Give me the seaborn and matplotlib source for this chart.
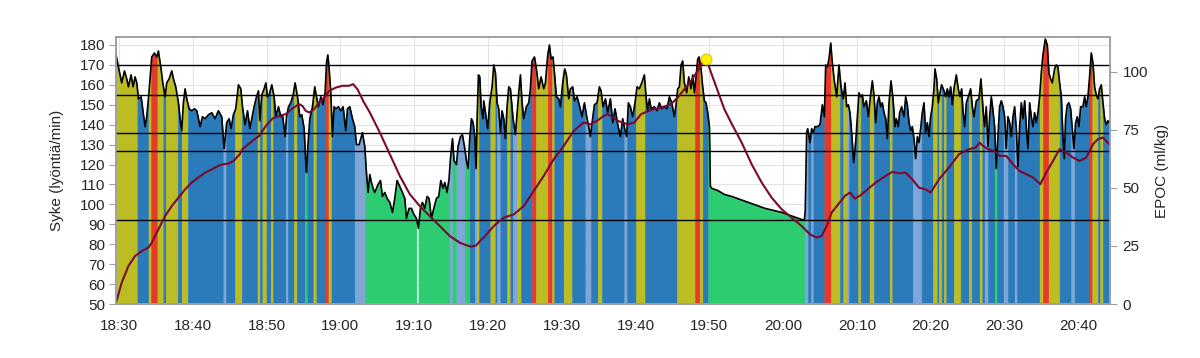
import numpy as np
import pandas as pd
import seaborn as sns
import matplotlib.pyplot as plt

# time in minutes after 18:30, heart rate (bpm)
hr_time = [
    -0.4, -0.08, 0.37, 0.74, 1.05, 1.28, 1.64, 1.91, 2.18, 2.41, 2.63, 3.0, 3.31, 3.54, 3.76, 3.99,
    4.21, 4.44, 4.8, 5.12, 5.34, 5.7, 5.93, 6.25, 6.47, 6.79, 7.15, 7.38, 7.69, 8.05, 8.28, 8.5,
    8.73, 8.96, 9.18, 9.5, 9.86, 10.22, 10.54, 10.99, 11.31, 11.67, 12.12, 12.57, 13.02, 13.47,
    13.92, 14.24, 14.6, 14.92, 15.19, 15.5, 15.82,
    16.19, 16.51, 16.73, 17.09, 17.41, 17.73, 18.0, 18.31, 18.63, 18.9, 19.08, 19.35, 19.67, 19.9,
    20.12, 20.35, 20.71, 21.02, 21.25, 21.61, 21.93, 22.15, 22.51, 22.7, 22.97, 23.28, 23.6, 23.87,
    24.19, 24.5, 24.77, 25.09, 25.31, 25.41, 25.59, 25.86, 26.22, 26.53, 26.76, 27.03, 27.35, 27.66,
    27.93, 28.12, 28.3, 28.48, 28.7, 28.93, 29.15, 29.38, 29.74, 30.06, 30.37, 30.73, 30.96, 31.28,
    31.64, 31.95, 32.18, 32.54,
    32.99, 33.31, 33.53, 33.76, 33.99, 34.21, 34.44, 34.66, 35.11, 35.43, 35.7, 36.02, 36.33, 36.7,
    37.06, 37.37, 37.69, 38.05, 38.41, 38.73, 38.95, 39.31, 39.63, 39.95, 40.31, 40.58, 40.85, 41.12,
    41.44, 41.75, 42.02, 42.34, 42.66, 43.02, 43.33, 43.61, 43.92, 44.15, 44.46, 44.73, 44.92, 45.19,
    45.41, 45.73, 45.95, 46.27, 46.54, 46.86, 47.08, 47.31, 47.53, 47.76, 47.99, 48.21, 48.39, 48.53,
    48.71, 48.89, 49.07, 49.34,
    49.43, 49.66, 49.97, 50.24, 50.56, 50.79, 51.01, 51.24, 51.46, 51.69, 51.91, 52.14, 52.37, 52.59,
    52.82, 53.04, 53.4, 53.72, 53.95, 54.17, 54.4, 54.62, 54.85, 55.21, 55.53, 55.75, 55.98, 56.3,
    56.57, 56.88, 57.2, 57.56, 57.79, 58.1, 58.33, 58.55, 58.82, 59.05, 59.28, 59.59, 59.82, 60.13,
    60.41, 60.63, 60.95, 61.17, 61.49, 61.72, 62.08, 62.44, 62.75, 63.07, 63.43, 63.66, 63.88, 64.11,
    64.43, 64.79, 65.1, 65.33, 65.6, 65.92,
    66.23, 66.59, 66.91, 67.22, 67.59, 67.95, 68.26, 68.58, 68.8, 69.03, 69.3, 69.62, 69.93, 70.2,
    70.52, 70.84, 71.2, 71.42, 71.65, 71.88, 72.1, 72.55, 72.91, 73.23, 73.55, 73.91, 74.27, 74.59,
    74.9, 75.26, 75.49, 75.71, 75.94, 76.17, 76.39, 76.62, 76.93, 77.21, 77.52, 77.75, 77.97, 78.2,
    78.43, 78.61, 78.88, 79.1, 79.33, 79.55, 79.78, 80.01, 80.14, 80.37, 81.14, 82.04, 83.03,
    85.29, 87.55, 89.8, 92.06, 92.88, 93.0, 93.19, 93.33, 93.64, 93.87, 94.1, 94.32, 94.68, 95.0,
    95.32, 95.59, 95.77, 95.99, 96.22, 96.45, 96.67, 96.94, 97.26, 97.57, 97.84, 98.16, 98.39, 98.61,
    98.84, 99.06, 99.29, 99.56, 99.83, 100.1,
    100.28, 100.51, 100.73, 100.96, 101.28, 101.55, 101.86, 102.09, 102.31, 102.54, 102.77, 102.99,
    103.22, 103.44, 103.67, 103.9, 104.12, 104.35, 104.62, 104.89, 105.16, 105.34, 105.61, 105.79,
    106.06, 106.38, 106.61, 106.83, 107.06, 107.28, 107.51, 107.73, 107.96, 108.19, 108.41, 108.64,
    108.86, 109.09, 109.31, 109.54, 109.77, 109.99, 110.22, 110.44, 110.58, 110.81, 111.03, 111.21,
    111.48, 111.8, 112.03, 112.25, 112.48, 112.7, 112.93, 113.15, 113.47, 113.74, 113.97, 114.19,
    114.37, 114.6, 114.83, 115.1, 115.41, 115.64, 115.86, 116.18, 116.54, 116.81,
    117.08, 117.31, 117.53, 117.76, 117.99, 118.21, 118.44, 118.66, 118.89, 119.11, 119.34, 119.57,
    119.79, 120.02, 120.24, 120.47, 120.7, 120.92, 121.15, 121.37, 121.6, 121.82, 122.05, 122.28,
    122.5, 122.73, 122.95, 123.18, 123.41, 123.63, 123.86, 124.08, 124.31, 124.53, 124.76, 124.99,
    125.21, 125.53, 125.8, 126.02, 126.25, 126.48, 126.79, 127.02, 127.24, 127.47, 127.7, 127.92,
    128.1, 128.28, 128.51, 128.73, 128.96, 129.19, 129.41, 129.64, 129.86, 130.09, 130.32, 130.63,
    130.86, 131.08, 131.31, 131.53, 131.76, 131.99, 132.21, 132.44, 132.66, 132.89, 133.12, 133.34,
    133.57, 133.79, 134.02, 134.2,
]
hr_bpm = [
    175, 169, 161, 167, 163, 159, 165, 159, 164, 161, 153, 154, 145, 139, 144, 153,
    163, 174, 176, 174, 177, 168, 161, 154, 161, 163, 167, 163, 159, 151, 143, 137,
    151, 158, 153, 148, 147, 148, 147, 139, 144, 143, 145, 146, 143, 147,
    144, 128, 141, 143, 138, 145, 148,
    160, 158, 149, 140, 147, 138, 143, 149, 154, 157, 142, 155, 158, 161,
    154, 155, 160, 154, 144, 149, 144, 145, 134, 144, 149, 151, 155, 161,
    154, 144, 145, 138, 121, 116, 129, 143, 149, 159, 154, 149, 154, 150,
    156, 171, 175, 168, 156, 134, 149, 148, 149, 147, 149, 137, 148, 149,
    143, 139, 130, 130,
    136, 129, 116, 106, 115, 111, 108, 106, 110, 112, 104, 106, 103, 101,
    96, 103, 112, 109, 106, 103, 93, 98, 98, 95, 93, 88, 98, 101,
    98, 104, 103, 93, 98, 103, 104, 112, 108, 111, 106, 113, 123, 133,
    122, 120, 129, 134, 135, 128, 122, 118, 133, 143, 141, 134, 118, 143,
    165, 164, 149, 143,
    152, 146, 138, 151, 159, 170, 166, 151, 148, 136, 147, 143, 133, 149,
    159, 158, 143, 135, 146, 156, 165, 151, 143, 149, 151, 158, 172, 174,
    168, 158, 164, 158, 161, 175, 180, 173, 174, 164, 154, 153, 149, 161,
    168, 165, 153, 158, 159, 152, 154, 149, 144, 151, 143, 139, 134, 141,
    150, 151, 159, 157, 149, 153,
    146, 153, 141, 148, 140, 134, 143, 137, 134, 151, 149, 144, 151, 159,
    158, 161, 165, 154, 147, 153, 148, 149, 147, 151, 148, 149, 148, 154,
    151, 144, 150, 158, 159, 170, 172, 161, 156, 164, 158, 165, 156, 164,
    173, 174, 168, 159, 152, 151, 146, 139, 109, 108, 107, 105, 104,
    101, 98, 96, 93, 92, 97, 136, 138, 131, 138, 136, 139, 139, 140,
    150, 144, 170, 169, 173, 181, 171, 162, 154, 170, 159, 153, 161, 149,
    150, 146, 136, 121, 131, 146,
    156, 154, 155, 149, 152, 144, 155, 162, 155, 141, 151, 154,
    149, 151, 146, 143, 133, 151, 162, 153, 139, 143, 139, 146,
    149, 144, 154, 150, 141, 137, 139, 133, 123, 134, 131, 138,
    146, 151, 136, 141, 134, 144, 149, 158, 168, 163, 151, 155,
    160, 157, 154, 158, 154, 159, 150, 158, 165, 158, 154, 158,
    147, 139, 151, 154, 158, 149, 144, 152, 153, 163,
    148, 139, 149, 129, 144, 154, 147, 139, 118, 134, 149, 152,
    149, 144, 128, 144, 141, 134, 144, 149, 138, 119, 139, 151,
    143, 152, 139, 128, 151, 144, 139, 146, 141, 146, 154, 166,
    175, 183, 180, 166, 163, 161, 168, 170, 169, 161, 154, 134,
    123, 143, 150, 151, 148, 138, 128, 141, 144, 139, 149, 149,
    154, 149, 154, 164, 176, 171, 159, 155, 153, 158, 160, 151,
    143, 140, 142, 141,
]

# EPOC (ml/kg)
epoc_time = [
    -0.4, 0.37, 1.28, 2.18, 3.09, 3.99, 4.44, 5.34, 6.25, 7.15, 8.05, 8.96, 9.86, 10.76, 11.67,
    12.57, 13.47, 14.15, 14.83, 15.51, 16.36, 16.73, 18.09, 18.99, 19.9, 20.8, 21.7, 22.6, 23.51,
    24.41, 24.86, 25.31, 25.77, 26.44, 27.12, 27.8, 28.48, 29.38, 30.28, 31.19, 31.73, 32.32, 32.63,
    33.17, 33.99, 35.34, 36.7, 38.05, 39.41, 40.76, 42.12, 43.47, 44.82, 46.18, 47.08, 47.76, 48.44,
    49.12, 49.43, 50.79, 52.14, 53.5, 54.85, 56.21, 57.56, 58.92, 60.27, 61.63, 62.98, 63.88, 64.79,
    65.69, 66.23, 67.59, 68.94, 69.84, 70.75, 72.1, 73.46, 74.81, 75.71, 76.62, 77.52, 78.43, 79.1,
    79.6, 80.23, 81.14, 82.04, 82.94, 84.39, 85.74, 87.1, 88.45, 89.8, 91.16, 92.51, 93.64, 94.55,
    95.23, 95.9, 96.58, 97.48, 98.39, 99.06, 99.74, 100.37, 101.19, 102.54, 103.9, 104.8, 105.7,
    106.61, 107.51, 108.41, 109.31, 109.99, 111.12, 112.48, 113.83, 115.19, 116.09, 116.63, 117.08,
    117.76, 118.66, 119.34, 120.24, 121.15, 122.05, 122.95, 123.86, 124.85, 125.66, 126.57, 127.47,
    128.37, 129.28, 130.18, 131.08, 131.99, 132.66, 133.34, 134.2,
]
epoc_val = [
    0.6, 9.2, 16.4, 20.7, 22.8, 24.3, 26.4, 32.2, 37.9, 42.2, 45.8, 49.4, 52.3, 54.5, 56.6,
    58.0, 59.5, 60.2, 60.5, 61.6, 64.5, 66.7, 70.3, 72.4, 76.7, 79.9, 81.0, 81.8, 84.2,
    86.1, 85.3, 83.2, 82.5, 83.9, 86.8, 88.9, 91.8, 93.2, 94.0, 94.0, 94.7, 92.5, 90.5,
    87.0, 82.5, 73.9, 64.5, 55.2, 47.3, 42.2, 37.9, 33.6, 29.3, 26.4, 25.3, 24.7, 25.3,
    27.9, 28.6, 33.6, 37.2, 38.6, 42.2, 48.7, 55.2, 62.4, 68.1, 74.6, 78.2, 77.4, 78.9,
    81.0, 81.8, 78.9, 77.4, 78.2, 81.8, 83.6, 84.6, 86.1, 88.9, 92.5, 96.1, 100.4, 104.0,
    105.5, 99.7, 91.8, 83.9, 78.2, 69.5, 60.2, 52.3, 45.8, 40.8, 37.2, 33.6, 30.0, 28.6,
    29.3, 33.6, 39.4, 43.0, 46.6, 48.0, 45.4, 46.6, 48.7, 52.3, 55.2, 56.9, 56.3,
    56.6, 53.7, 50.1, 49.4, 48.0, 53.7, 58.8, 64.5, 66.7, 67.4, 69.5, 68.1,
    66.7, 65.9, 63.8, 63.8, 60.2, 57.3, 55.9, 54.5, 51.6, 56.6, 61.6, 66.7,
    65.2, 63.1, 61.6, 63.1, 68.8, 71.0, 71.7, 68.8,
]

# intensity zone blocks: start minute and zone
# Y = olive, B = blue, L = light blue, R = red, G = green, W = gap
zone_start = [
    -0.4, 2.5, 4.0, 4.35, 5.21, 6.02, 6.34, 7.96, 8.5, 9.32, 14.15, 14.5, 15.73,
    16.64, 18.77, 19.08, 19.44, 19.99, 20.57, 20.89, 22.6, 22.88, 23.73, 24.1, 25.18, 25.54,
    26.35, 26.76, 28.0, 28.39, 28.8, 31.95,
    33.31, 40.31, 40.58, 44.82, 45.19, 45.73, 46.86, 47.53, 48.21, 48.53, 48.8,
    50.33, 51.01, 51.24, 51.69, 52.59, 53.04, 53.4, 53.95, 54.49, 55.98, 56.52, 58.1, 58.69,
    59.0, 60.27, 61.4, 63.21, 63.97, 64.88, 65.46,
    68.49, 68.85, 70.07, 71.29, 75.62, 78.06, 78.7, 79.1, 79.85,
    92.97, 93.4, 93.8, 94.1, 95.59, 96.49, 97.71, 98.16, 98.61, 98.93,
    100.19, 100.51, 101.73, 102.31, 104.44, 104.8, 107.6, 108.77, 110.31, 110.9, 111.12, 111.48,
    111.8, 112.12, 113.15, 114.06, 115.19, 115.55, 116.63, 117.0,
    117.31, 117.76, 118.66, 118.98, 119.88, 120.47, 121.37, 121.69, 124.76, 125.21, 125.98, 127.47,
    129.05, 129.5, 131.53, 131.9, 132.66, 132.98, 133.34,
]
zone_code = [
    'Y', 'B', 'Y', 'R', 'Y', 'B', 'Y', 'B', 'Y', 'B', 'L', 'B', 'Y',
    'B', 'Y', 'B', 'Y', 'B', 'Y', 'B', 'L', 'B', 'Y', 'B', 'G', 'B',
    'Y', 'B', 'R', 'Y', 'B', 'L',
    'G', 'W', 'G', 'L', 'G', 'L', 'G', 'B', 'L', 'Y', 'B',
    'Y', 'B', 'L', 'B', 'Y', 'B', 'L', 'Y', 'B', 'R', 'Y', 'R', 'Y',
    'B', 'Y', 'B', 'L', 'B', 'Y', 'B',
    'L', 'B', 'Y', 'B', 'Y', 'R', 'Y', 'B', 'G',
    'L', 'B', 'L', 'B', 'R', 'Y', 'B', 'Y', 'L', 'B',
    'Y', 'B', 'Y', 'B', 'Y', 'B', 'L', 'B', 'Y', 'B', 'Y', 'B',
    'Y', 'B', 'Y', 'B', 'Y', 'B', 'Y', 'B',
    'L', 'B', 'G', 'B', 'L', 'B', 'L', 'B', 'Y', 'R', 'Y', 'B',
    'L', 'B', 'R', 'Y', 'B', 'Y', 'B',
]
zone_colors = {'Y': '#bcbd22', 'B': '#2b7bba', 'L': '#7ea7d8', 'R': '#e8392b', 'G': '#2ecc71'}

limit_lines = [170, 155, 136, 127, 92]

tick_min = [0, 10, 20, 30, 40, 50, 60, 70, 80, 90, 100, 110, 120, 130]
tick_labels = ['18:30', '18:40', '18:50', '19:00', '19:10', '19:20', '19:30', '19:40',
               '19:50', '20:00', '20:10', '20:20', '20:30', '20:40']

sns.set_style("whitegrid", {"grid.color": "#e4e4e4", "axes.edgecolor": "#a0a0a0"})
plt.rcParams['font.family'] = ['Liberation Sans', 'DejaVu Sans']

t = np.array(hr_time)
hr = np.array(hr_bpm)
t_end = hr_time[-1]

fig = plt.figure(figsize=(12, 3.58), dpi=100)
ax = fig.add_axes([0.0967, 0.1508, 0.8283, 0.7458])

# coloured blocks under the heart rate curve
for i, (s, z) in enumerate(zip(zone_start, zone_code)):
    e = zone_start[i + 1] if i + 1 < len(zone_start) else t_end
    if z == 'W':
        continue
    m = (t > s) & (t < e)
    xs = np.concatenate([[s], t[m], [e]])
    ys = np.concatenate([[np.interp(s, t, hr)], hr[m], [np.interp(e, t, hr)]])
    ax.fill_between(xs, 50, ys, color=zone_colors[z], lw=0.4, edgecolor=zone_colors[z], zorder=2)

for y in limit_lines:
    ax.axhline(y, color='black', lw=1.0, zorder=3)

hr_df = pd.DataFrame({'t': t, 'hr': hr})
sns.lineplot(data=hr_df, x='t', y='hr', ax=ax, color='black', lw=1.2, estimator=None, zorder=4)

ax.set_xlim(-0.4, 134.3)
ax.set_ylim(50, 184)
ax.set_yticks(range(50, 181, 10))
ax.set_xticks(tick_min)
ax.set_xticklabels(tick_labels)
ax.set_xlabel('')
ax.set_ylabel('Syke (lyöntiä/min)', fontsize=11, labelpad=11)
ax.tick_params(axis='both', labelsize=11, length=5, color='#a0a0a0', pad=3)
ax.tick_params(axis='x', pad=6)
for sp in ax.spines.values():
    sp.set_linewidth(1.2)

ax2 = ax.twinx()
ax2.grid(False)
epoc_df = pd.DataFrame({'t': epoc_time, 'epoc': epoc_val})
sns.lineplot(data=epoc_df, x='t', y='epoc', ax=ax2, color='#7a0a2e', lw=1.5, estimator=None)
k = int(np.argmax(epoc_val))
ax2.scatter([epoc_time[k]], [epoc_val[k]], s=60, color='#fff200', edgecolor='#d8c800',
            lw=0.8, zorder=6)
ax2.set_ylim(0, 115)
ax2.set_yticks([0, 25, 50, 75, 100])
ax2.set_ylabel('EPOC (ml/kg)', fontsize=11, labelpad=5)
ax2.tick_params(axis='y', labelsize=11, length=5, color='#a0a0a0', pad=4)
for sp in ax2.spines.values():
    sp.set_linewidth(1.2)
    sp.set_color('#a0a0a0')

fig.savefig('out.png', dpi=100)
